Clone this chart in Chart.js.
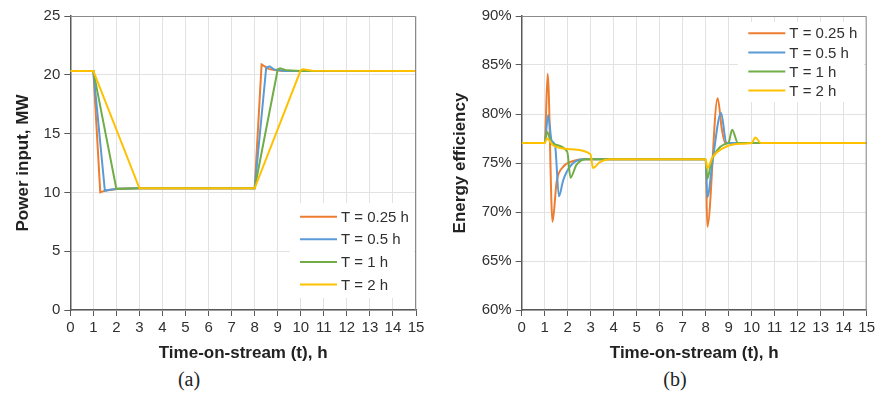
<!DOCTYPE html>
<html>
<head>
<meta charset="utf-8">
<script src="https://cdn.jsdelivr.net/npm/chart.js@4.4.1/dist/chart.umd.min.js"></script>
<style>
  body { margin: 0; background: #fff; width: 878px; height: 394px; position: relative; overflow: hidden; }
  canvas { position: absolute; top: 0; }
  .cap { position: absolute; top: 368px; font: 20px 'Liberation Serif', 'Times New Roman', serif; color: #222; transform: translateX(-50%); }
</style>
</head>
<body>
<canvas id="chartA" width="430" height="368" style="left:0"></canvas>
<canvas id="chartB" width="438" height="368" style="left:440px"></canvas>
<div class="cap" id="capA" style="left:189px"></div>
<div class="cap" id="capB" style="left:675px"></div>
<script>
'use strict';

let seriesLabels = ['T = 0.25 h', 'T = 0.5 h', 'T = 1 h', 'T = 2 h'];
let seriesColors = ['#ED7D31', '#5B9BD5', '#70AD47', '#FFC000'];
let captions = ['(a)', '(b)'];
let xTitle = 'Time-on-stream (t), h';

// (a) power input, MW
let powerTitle = 'Power input, MW';
let powerX025 = [0, 1, 1.3, 1.5, 2, 3, 8, 8.3, 8.45, 8.6, 8.8, 9.2, 15];
let powerY025 = [20.33, 20.33, 10.0, 10.15, 10.28, 10.35, 10.35, 20.88, 20.7, 20.5, 20.42, 20.33, 20.33];
let powerX05 = [0, 1, 1.5, 1.7, 2.1, 3, 8, 8.5, 8.65, 8.85, 9.3, 15];
let powerY05 = [20.33, 20.33, 10.14, 10.22, 10.3, 10.35, 10.35, 20.6, 20.72, 20.45, 20.33, 20.33];
let powerX1 = [0, 1, 2, 2.5, 3, 8, 9, 9.1, 9.4, 10, 15];
let powerY1 = [20.33, 20.33, 10.3, 10.33, 10.35, 10.35, 20.45, 20.56, 20.38, 20.33, 20.33];
let powerX2 = [0, 1, 3, 8, 10, 10.1, 10.5, 15];
let powerY2 = [20.33, 20.33, 10.35, 10.35, 20.4, 20.47, 20.35, 20.33];

// (b) energy efficiency, %
let effTitle = 'Energy efficiency';
let effX025 = [0, 1, 1.13, 1.34, 1.52, 1.8, 2.24, 2.7, 8, 8.07, 8.52, 8.7, 8.85, 9.3, 15];
let effY025 = [77.05, 77.05, 84.1, 69.0, 73.1, 74.6, 75.2, 75.37, 75.37, 68.5, 81.6, 78.5, 77.05, 77.05, 77.05];
let effX05 = [0, 1, 1.15, 1.3, 1.45, 1.62, 1.8, 2.09, 2.66, 8, 8.07, 8.3, 8.67, 8.9, 9.3, 15];
let effY05 = [77.05, 77.05, 79.9, 77.3, 76.8, 71.6, 73.2, 74.6, 75.37, 75.37, 71.5, 75.2, 80.1, 77.05, 77.05, 77.05];
let effX1 = [0, 1, 1.1, 1.3, 1.98, 2.12, 2.38, 2.82, 8, 8.07, 8.25, 8.5, 8.8, 9.0, 9.15, 9.4, 15];
let effY1 = [77.05, 77.05, 78.2, 77.0, 76.15, 73.5, 74.8, 75.37, 75.37, 73.4, 75.2, 76.3, 76.9, 77.1, 78.4, 77.05, 77.05];
let effX2 = [0, 1, 1.1, 1.37, 2.2, 2.99, 3.1, 3.4, 3.83, 8, 8.07, 8.3, 8.74, 9.32, 10.0, 10.16, 10.4, 15];
let effY2 = [77.05, 77.05, 77.5, 76.8, 76.4, 75.9, 74.5, 75.1, 75.37, 75.37, 74.46, 75.6, 76.5, 76.94, 77.05, 77.6, 77.05, 77.05];

document.getElementById('capA').textContent = captions[0];
document.getElementById('capB').textContent = captions[1];

Chart.defaults.font.family = "'Liberation Sans', Arial, sans-serif";
Chart.defaults.color = '#303030';

function toPoints(xs, ys) {
  let pts = [];
  for (let i = 0; i < xs.length; i++) pts.push({ x: xs[i], y: ys[i] });
  return pts;
}

// frame around the plot area + legend box drawn inside it
let framePlugin = {
  id: 'frameLegend',
  afterDraw(chart, args, opts) {
    let ctx = chart.ctx;
    let a = chart.chartArea;
    ctx.save();
    ctx.strokeStyle = '#8a8a8a';
    ctx.lineWidth = 1;
    ctx.beginPath();
    ctx.moveTo(a.left, a.top + 0.5);
    ctx.lineTo(a.right - 0.5, a.top + 0.5);
    ctx.lineTo(a.right - 0.5, a.bottom);
    ctx.stroke();

    ctx.fillStyle = '#fff';
    ctx.fillRect(opts.bg[0], opts.bg[1], opts.bg[2], opts.bg[3]);
    ctx.font = "15px 'Liberation Sans', Arial, sans-serif";
    ctx.textBaseline = 'middle';
    for (let i = 0; i < seriesLabels.length; i++) {
      let y = opts.y + i * opts.dy;
      ctx.strokeStyle = seriesColors[i];
      ctx.lineWidth = 2;
      ctx.beginPath();
      ctx.moveTo(opts.x, y);
      ctx.lineTo(opts.x + opts.len, y);
      ctx.stroke();
      ctx.fillStyle = '#303030';
      ctx.fillText(seriesLabels[i], opts.x + opts.len + 4, y + 1);
    }
    ctx.restore();
  }
};

function makeChart(id, xsList, ysList, yOpts, pad, yWidth, legend, smooth) {
  let datasets = [];
  for (let i = 0; i < xsList.length; i++) {
    datasets.push({
      label: seriesLabels[i],
      data: toPoints(xsList[i], ysList[i]),
      borderColor: seriesColors[i],
      backgroundColor: seriesColors[i],
      borderWidth: 2,
      pointRadius: 0,
      tension: smooth ? 0.4 : 0,
      cubicInterpolationMode: smooth ? 'monotone' : 'default',
      order: xsList.length - 1 - i
    });
  }
  return new Chart(document.getElementById(id), {
    type: 'line',
    data: { datasets: datasets },
    options: {
      responsive: false,
      animation: false,
      layout: { padding: pad },
      plugins: { legend: { display: false }, tooltip: { enabled: false }, frameLegend: legend },
      scales: {
        x: {
          type: 'linear', min: 0, max: 15,
          afterFit(s) { s.height = 58; },
          ticks: { stepSize: 1, autoSkip: false, maxRotation: 0, padding: 3, font: { size: 15 } },
          grid: { color: '#e2e2e2', tickColor: '#595959', tickLength: 6 },
          border: { color: '#595959', width: 1.5 },
          title: { display: true, text: xTitle, font: { size: 17, weight: 'bold' }, color: '#222', padding: { top: 0, bottom: 4 } }
        },
        y: {
          min: yOpts.min, max: yOpts.max,
          afterFit(s) { s.width = yWidth; },
          ticks: { stepSize: yOpts.step, padding: 4, font: { size: 15 }, callback: yOpts.fmt },
          grid: { color: '#e2e2e2', tickColor: '#595959', tickLength: 6 },
          border: { color: '#595959', width: 1.5 },
          title: { display: true, text: yOpts.title, font: { size: 17, weight: 'bold' }, color: '#222', padding: { top: 4, bottom: 0 } }
        }
      }
    },
    plugins: [framePlugin]
  });
}

makeChart('chartA',
  [powerX025, powerX05, powerX1, powerX2],
  [powerY025, powerY05, powerY1, powerY2],
  { min: 0, max: 25, step: 5, title: powerTitle, fmt: v => v },
  { left: 9, right: 14, top: 16, bottom: 0 }, 61.3,
  { x: 300, y: 216.7, dy: 22.6, len: 37, bg: [290, 203, 124, 95] },
  false);

makeChart('chartB',
  [effX025, effX05, effX1, effX2],
  [effY025, effY05, effY1, effY2],
  { min: 60, max: 90, step: 5, title: effTitle, fmt: v => v + '%' },
  { left: 6, right: 10.3, top: 16, bottom: 0 }, 75.7,
  { x: 308.3, y: 33.3, dy: 19.1, len: 37, bg: [298, 22, 126, 80] },
  true);
</script>
</body>
</html>
